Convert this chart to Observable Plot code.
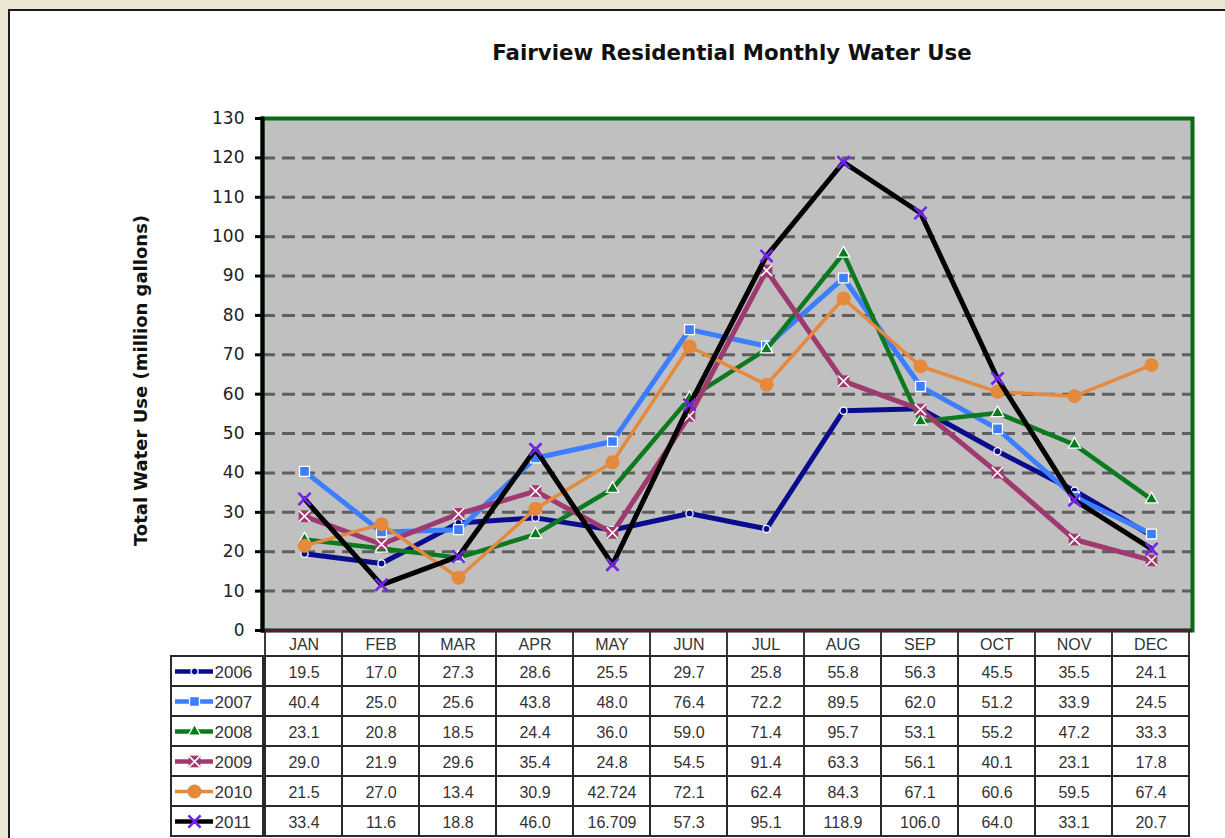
<!DOCTYPE html>
<html><head><meta charset="utf-8">
<script src="https://cdn.jsdelivr.net/npm/d3@7"></script>
<script src="https://cdn.jsdelivr.net/npm/@observablehq/plot@0.6"></script>
<style>
html,body{margin:0;padding:0;}
body{width:1225px;height:838px;overflow:hidden;background:#ebe7d4;position:relative;font-family:"Liberation Sans",Arial,sans-serif;}
#panel{position:absolute;left:8px;top:9px;width:1300px;height:900px;background:#fff;border:2.5px solid #1b1b1b;}
#title{position:absolute;top:40px;left:267px;width:930px;text-align:center;font:bold 21.3px "DejaVu Sans",sans-serif;color:#111;white-space:nowrap;}
.layer{position:absolute;}
.layer svg{overflow:visible;}
</style></head><body>
<div id="panel"></div>
<div id="title">Fairview Residential Monthly Water Use</div>
<div id="hdr" class="layer" style="left:0;top:630px"></div>
<div id="tbl" class="layer" style="left:0;top:655px"></div>
<div id="leg" class="layer" style="left:171px;top:655px"></div>
<div id="chart" class="layer" style="left:0;top:0"></div>
<script>
const months = ["JAN","FEB","MAR","APR","MAY","JUN","JUL","AUG","SEP","OCT","NOV","DEC"];
const years = ["2006","2007","2008","2009","2010","2011"];
const use2006 = [19.5, 17.0, 27.3, 28.6, 25.5, 29.7, 25.8, 55.8, 56.3, 45.5, 35.5, 24.1];
const use2007 = [40.4, 25.0, 25.6, 43.8, 48.0, 76.4, 72.2, 89.5, 62.0, 51.2, 33.9, 24.5];
const use2008 = [23.1, 20.8, 18.5, 24.4, 36.0, 59.0, 71.4, 95.7, 53.1, 55.2, 47.2, 33.3];
const use2009 = [29.0, 21.9, 29.6, 35.4, 24.8, 54.5, 91.4, 63.3, 56.1, 40.1, 23.1, 17.8];
const use2010 = [21.5, 27.0, 13.4, 30.9, 42.724, 72.1, 62.4, 84.3, 67.1, 60.6, 59.5, 67.4];
const use2011 = [33.4, 11.6, 18.8, 46.0, 16.709, 57.3, 95.1, 118.9, 106.0, 64.0, 33.1, 20.7];
const yTicks = [0,10,20,30,40,50,60,70,80,90,100,110,120,130];
const yLabel = "Total Water Use (million gallons)";

const series = [use2006, use2007, use2008, use2009, use2010, use2011];
const rows = years.flatMap((yr, i) => months.map((m, j) => ({year: yr, month: m, value: series[i][j]})));

const lineStyle = {
  "2006": {stroke: "#0b0b8e", strokeWidth: 5},
  "2007": {stroke: "#3d7eff", strokeWidth: 5},
  "2008": {stroke: "#0b7a1f", strokeWidth: 4.5},
  "2009": {stroke: "#9f3a70", strokeWidth: 5},
  "2010": {stroke: "#e5893d", strokeWidth: 3.5},
  "2011": {stroke: "#000000", strokeWidth: 5}
};
const markerStyle = {
  "2006": [{symbol: "circle", r: 3.6, fill: "#0b0b8e", stroke: "white", strokeWidth: 1.3}],
  "2007": [{symbol: "square", r: 5.6, fill: "#3d7eff", stroke: "white", strokeWidth: 1.3}],
  "2008": [{symbol: "triangle", r: 4.6, fill: "#0b7a1f", stroke: "white", strokeWidth: 1.3}],
  "2009": [{symbol: "square", r: 6.6, fill: "#9f3a70"}, {symbol: "times", r: 5.2, fill: "none", stroke: "white", strokeWidth: 1.6}],
  "2010": [{symbol: "circle", r: 7, fill: "#e5893d"}],
  "2011": [{symbol: "times", r: 5.6, fill: "none", stroke: "#7522f0", strokeWidth: 2.6}]
};
function markers(data, yr, pos) {
  return markerStyle[yr].map(s => Plot.dot(data, {...pos, ...s}));
}
const fmt = v => Math.abs(v * 10 - Math.round(v * 10)) < 1e-6 ? v.toFixed(1) : v.toFixed(3);

// main chart
const seriesMarks = years.flatMap(yr => {
  const d = rows.filter(r => r.year === yr);
  return [
    Plot.line(d, {x: "month", y: "value", ...lineStyle[yr], strokeLinejoin: "round"}),
    ...markers(d, yr, {x: "month", y: "value"})
  ];
});
const chart = Plot.plot({
  width: 1225, height: 640,
  marginTop: 118, marginBottom: 10, marginLeft: 262, marginRight: 33,
  style: {background: "transparent", fontFamily: "'DejaVu Sans', sans-serif"},
  x: {type: "point", domain: months, padding: 0.5, axis: null},
  y: {domain: [0, 130], axis: null},
  marks: [
    Plot.frame({fill: "#c0c0c0"}),
    Plot.ruleY(yTicks.filter(t => t > 0 && t < 130), {stroke: "#5f5f5f", strokeWidth: 3, strokeDasharray: "13,7"}),
    ...seriesMarks,
    Plot.frame({stroke: "#0a6a14", strokeWidth: 4}),
    Plot.ruleY([0], {stroke: "#5a1838", strokeWidth: 3.5}),
    Plot.frame({anchor: "left", stroke: "#000", strokeWidth: 4}),
    Plot.axisY(yTicks, {tickSize: 7, tickPadding: 11, fontSize: 17, stroke: "#000", strokeWidth: 3, fill: "#222", label: null}),
    Plot.text([yLabel], {text: d => d, frameAnchor: "left", textAnchor: "middle", dx: -121, dy: 6, rotate: -90, fontSize: 18, fontWeight: "bold", fill: "#111"})
  ]
});
document.getElementById("chart").append(chart);

// table header
const hdr = Plot.plot({
  width: 1225, height: 26, marginTop: 0, marginBottom: 0, marginLeft: 262, marginRight: 33,
  style: {background: "transparent", fontFamily: "'Liberation Sans', Arial, sans-serif"},
  x: {type: "band", domain: months, padding: 0, axis: null},
  marks: [
    Plot.cell(months, {x: d => d, fill: "white", stroke: "#3a3a3a", strokeWidth: 2, inset: 0}),
    Plot.text(months, {x: d => d, text: d => d, fontSize: 16, fill: "#333", dy: 1})
  ]
});
document.getElementById("hdr").append(hdr);

// table body
const tbl = Plot.plot({
  width: 1225, height: 183, marginTop: 0, marginBottom: 1, marginLeft: 262, marginRight: 33,
  style: {background: "transparent", fontFamily: "'Liberation Sans', Arial, sans-serif"},
  x: {type: "band", domain: months, padding: 0, axis: null},
  y: {type: "band", domain: years, padding: 0, axis: null},
  marks: [
    Plot.cell(rows, {x: "month", y: "year", fill: "white", stroke: "#2a2a2a", strokeWidth: 2, inset: 0}),
    Plot.text(rows, {x: "month", y: "year", text: d => fmt(d.value), fontSize: 16, fill: "#333", dy: 1})
  ]
});
document.getElementById("tbl").append(tbl);

// legend column
const legMarks = years.flatMap(yr => {
  const d = [yr];
  return [
    Plot.ruleY(d, {y: v => v, ...lineStyle[yr], strokeWidth: Math.min(lineStyle[yr].strokeWidth, 4.5), insetLeft: 4, insetRight: 50}),
    ...markers(d, yr, {y: v => v, frameAnchor: "left", dx: 23})
  ];
});
const leg = Plot.plot({
  width: 92, height: 183, marginTop: 0, marginBottom: 1, marginLeft: 0, marginRight: 0,
  style: {background: "transparent", fontFamily: "'Liberation Sans', Arial, sans-serif"},
  y: {type: "band", domain: years, padding: 0, axis: null},
  marks: [
    Plot.cell(years, {y: d => d, fill: "white", stroke: "#2a2a2a", strokeWidth: 2, inset: 0}),
    ...legMarks,
    Plot.text(years, {y: d => d, text: d => d, frameAnchor: "left", dx: 43, textAnchor: "start", fontSize: 17, fill: "#333", dy: 1})
  ]
});
document.getElementById("leg").append(leg);
</script>
</body></html>
